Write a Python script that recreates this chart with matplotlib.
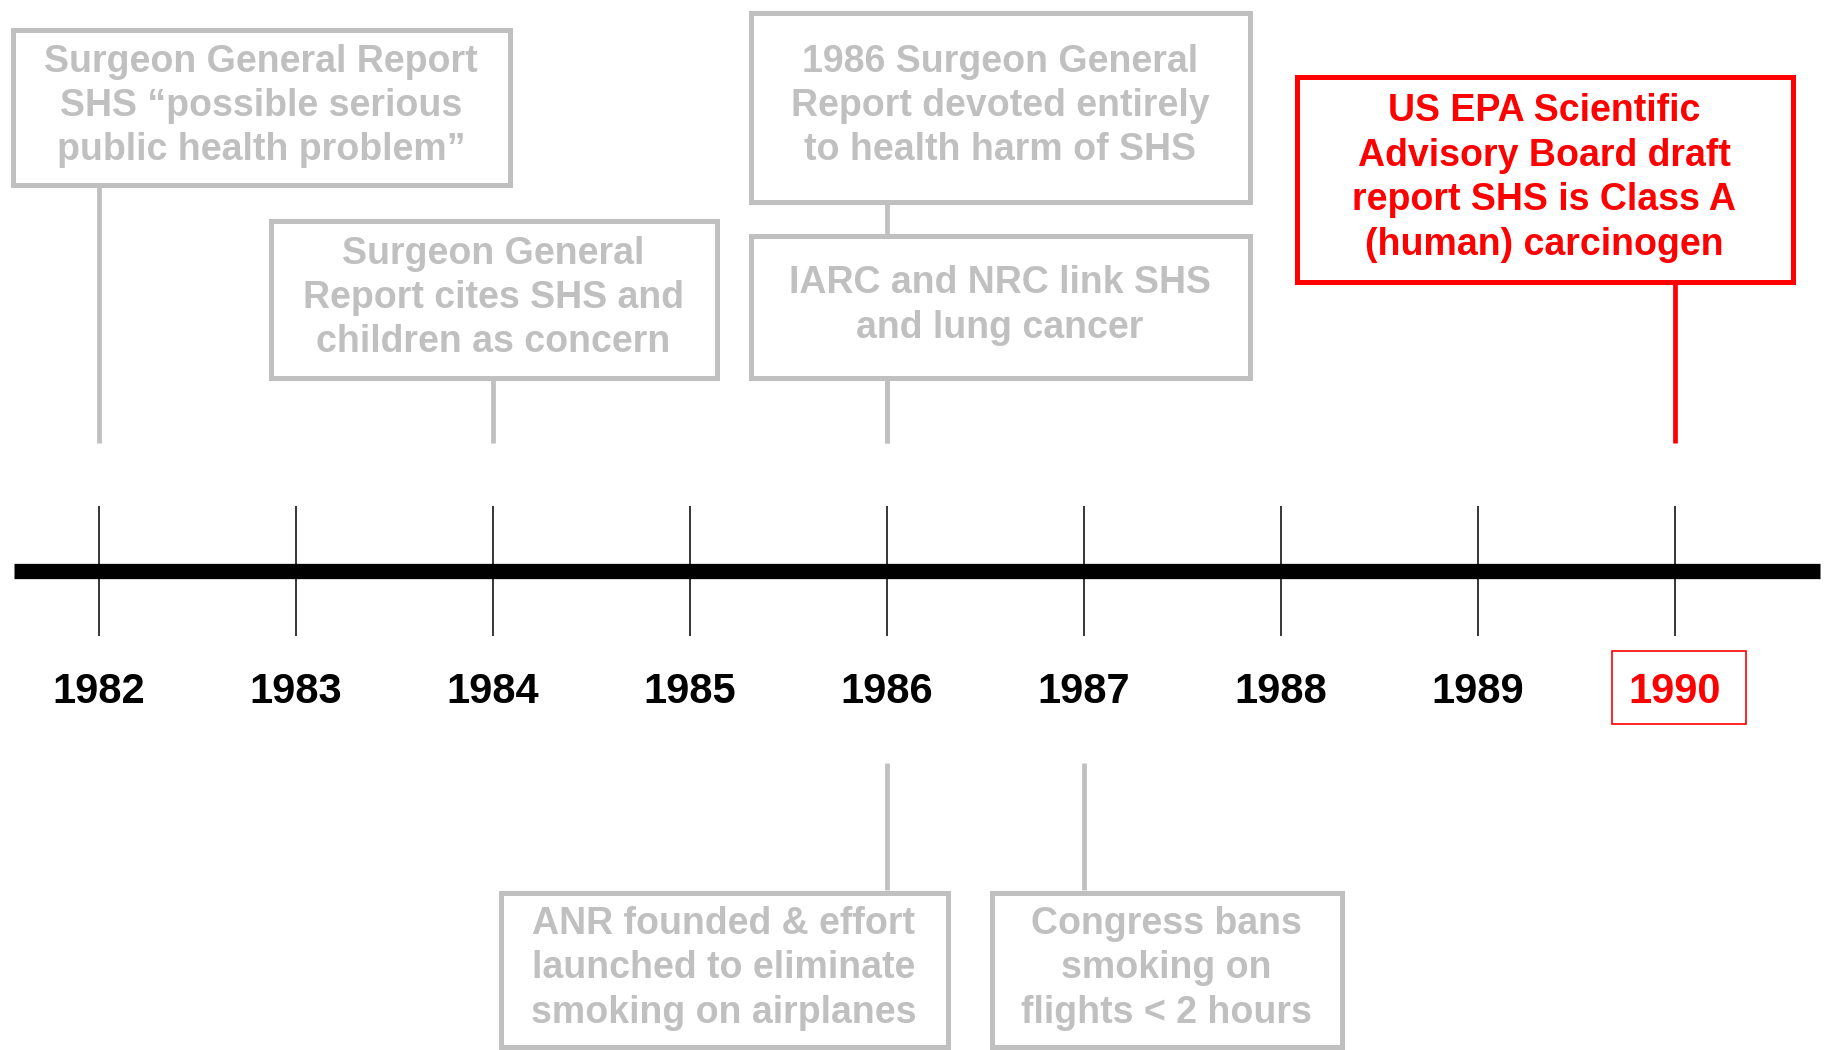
import matplotlib
matplotlib.use("Agg")
import matplotlib.pyplot as plt
from matplotlib.patches import Rectangle

# timeline data
years = [1982, 1983, 1984, 1985, 1986, 1987, 1988, 1989, 1990]
highlight_year = 1990

event_years = [1982, 1984, 1986, 1986, 1986, 1987, 1990]
event_text = [
    "Surgeon General Report\nSHS \u201cpossible serious\npublic health problem\u201d",
    "Surgeon General\nReport cites SHS and\nchildren as concern",
    "1986 Surgeon General\nReport devoted entirely\nto health harm of SHS",
    "IARC and NRC link SHS\nand lung cancer",
    "ANR founded & effort\nlaunched to eliminate\nsmoking on airplanes",
    "Congress bans\nsmoking on\nflights < 2 hours",
    "US EPA Scientific\nAdvisory Board draft\nreport SHS is Class A\n(human) carcinogen",
]
event_highlight = [False, False, False, False, False, False, True]

# layout in pixels (x0, y0, x1, y1), outer edge of each box
box_layout = [
    (10, 27, 512, 187),
    (268, 218, 719, 380),
    (748, 10, 1252, 204),
    (748, 233, 1252, 380),
    (498, 890, 950, 1049),
    (989, 890, 1344, 1049),
    (1294, 74, 1795, 284),
]

W, H = 1832, 1050
GRAY = "#c0c0c0"
RED = "#ff0000"
FONT = "Liberation Sans"
px_per_year = 197.0
x_1986 = 887.0

fig = plt.figure(figsize=(W / 100, H / 100), dpi=100)
fig.patch.set_facecolor("white")

ax = fig.add_axes([0, 0, 1, 1])
ax.set_xlim(1986 - x_1986 / px_per_year, 1986 + (W - x_1986) / px_per_year)
ax.set_ylim(H, 0)
ax.axis("off")

# main bar and year ticks
ax.axhline(571, xmin=14 / W, xmax=1820 / W, color="black", lw=11, solid_capstyle="butt")
ax.vlines(years, 506, 636, color="black", lw=1.1)
for yr in years:
    c = RED if yr == highlight_year else "black"
    ax.text(yr, 692, str(yr), ha="center", va="center", fontsize=30,
            fontweight="bold", color=c, family=FONT)
ax.add_patch(Rectangle((highlight_year - 67 / px_per_year + 0.02, 651),
                       134 / px_per_year, 73, fill=False, ec=RED, lw=1.2))

# stems from boxes to the timeline
for yr, (x0, y0, x1, y1), hl in zip(event_years, box_layout, event_highlight):
    c = RED if hl else GRAY
    if y0 > 571:
        ax.vlines(yr, 763, y0, color=c, lw=3.4)
    else:
        ax.vlines(yr, y1, 443, color=c, lw=3.4)

# boxes on top
lay = fig.add_axes([0, 0, 1, 1])
lay.set_xlim(0, W)
lay.set_ylim(H, 0)
lay.axis("off")
lay.patch.set_alpha(0)

for txt, (x0, y0, x1, y1), hl in zip(event_text, box_layout, event_highlight):
    c = RED if hl else GRAY
    lay.add_patch(Rectangle((x0 + 2.5, y0 + 2.5), x1 - x0 - 5, y1 - y0 - 5,
                            fc="white", ec=c, lw=3.6))
    lay.text((x0 + x1) / 2, (y0 + y1) / 2 - 1, txt, ha="center", va="center",
             fontsize=27, fontweight="bold", color=c, family=FONT,
             linespacing=1.3, multialignment="center")

fig.savefig("out.png", dpi=100, facecolor="white")
